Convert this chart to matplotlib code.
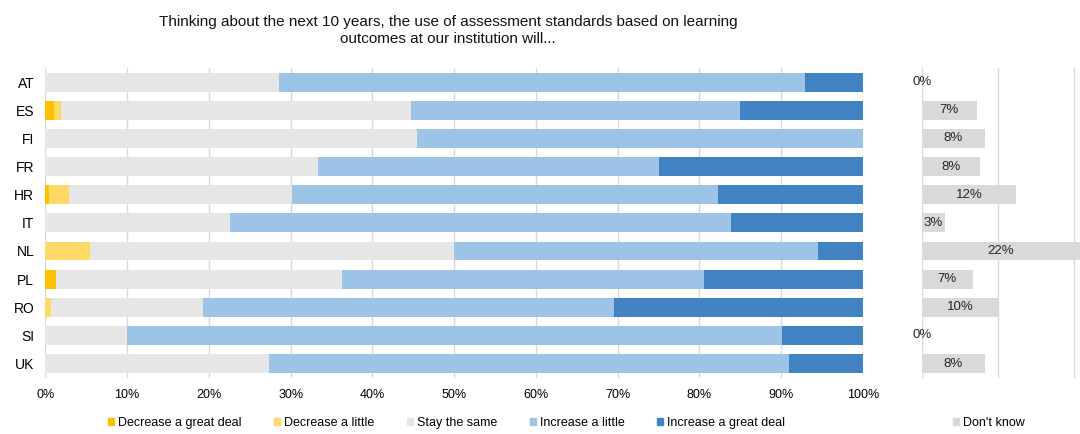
import numpy as np
import matplotlib.pyplot as plt
from matplotlib.patches import Patch

plt.rcParams['font.family'] = ['Liberation Sans', 'DejaVu Sans']

countries = ['AT', 'ES', 'FI', 'FR', 'HR', 'IT', 'NL', 'PL', 'RO', 'SI', 'UK']
series = ['Decrease a great deal', 'Decrease a little', 'Stay the same',
          'Increase a little', 'Increase a great deal']
dec_great = [0, 1.1, 0, 0, 0.5, 0, 0, 1.35, 0, 0, 0]
dec_little = [0, 0.8, 0, 0, 2.35, 0, 5.5, 0, 0.7, 0, 0]
stay_same = [28.6, 42.8, 45.4, 33.3, 27.35, 22.6, 44.5, 34.95, 18.6, 10.0, 27.3]
inc_little = [64.3, 40.3, 54.6, 41.8, 52.1, 61.3, 44.5, 44.3, 50.2, 80.1, 63.6]
inc_great = [7.1, 15.0, 0, 24.9, 17.7, 16.1, 5.5, 19.4, 30.5, 9.9, 9.1]
dont_know = [0, 7.2, 8.3, 7.6, 12.4, 3.05, 22.0, 6.7, 10.0, 0, 8.3]

colors = ['#FFC000', '#FFD966', '#E7E6E6', '#9DC3E6', '#4283C3']
dk_color = '#D9D9D9'
grid_color = '#D9D9D9'

fig = plt.figure(figsize=(10.8, 4.34), dpi=100)
ax = fig.add_axes([0.042, 0.13, 0.757, 0.713])
ax2 = fig.add_axes([0.8535, 0.13, 0.1465, 0.713])

y = np.arange(len(countries))
h = 0.67
left = np.zeros(len(countries))
for vals, col in zip([dec_great, dec_little, stay_same, inc_little, inc_great], colors):
    ax.barh(y, vals, left=left, height=h, color=col, zorder=2)
    left += np.array(vals)

ax.set_xlim(0, 100)
ax.set_ylim(len(countries) - 0.5, -0.5)
ax.set_xticks(np.arange(0, 101, 10))
ax.set_xticklabels([f'{v}%' for v in range(0, 101, 10)], fontsize=9)
ax.set_yticks(y)
ax.set_yticklabels(countries, fontsize=10)
ax.tick_params(length=0)
ax.tick_params(axis='y', pad=8)
ax.tick_params(axis='x', pad=8)
ax.grid(axis='x', color=grid_color, lw=1, zorder=0)
for s in ax.spines.values():
    s.set_visible(False)

# don't know panel
xmax2 = 20.75
ax2.barh(y, dont_know, height=h, color=dk_color, zorder=2)
ax2.set_xlim(0, xmax2)
ax2.set_ylim(len(countries) - 0.5, -0.5)
ax2.set_xticks([0, 10, 20])
ax2.set_xticklabels([])
ax2.set_yticks([])
ax2.tick_params(length=0)
ax2.grid(axis='x', color=grid_color, lw=1, zorder=0)
for s in ax2.spines.values():
    s.set_visible(False)
for yi, v in zip(y, dont_know):
    ax2.text(min(v, xmax2) / 2, yi, f'{round(v):.0f}%', ha='center', va='center',
             fontsize=9.5, color='#262626', zorder=3, clip_on=False)

fig.text(0.415, 0.93, 'Thinking about the next 10 years, the use of assessment standards based on learning\n'
         'outcomes at our institution will...', ha='center', va='center', fontsize=11,
         linespacing=1.25, color='#111111')

handles = [Patch(color=c, label=l) for c, l in zip(colors, series)]
fig.legend(handles=handles, loc='center left', bbox_to_anchor=(0.0955, 0.025), ncol=5,
           frameon=False, fontsize=9, handlelength=0.5, handleheight=0.5,
           handletextpad=0.3, columnspacing=2.6, borderaxespad=0)
fig.legend(handles=[Patch(color=dk_color, label="Don't know")], loc='center left',
           bbox_to_anchor=(0.8775, 0.025), frameon=False, fontsize=9, handlelength=0.5,
           handleheight=0.5, handletextpad=0.3, borderaxespad=0)

fig.savefig('out.png', dpi=100)
